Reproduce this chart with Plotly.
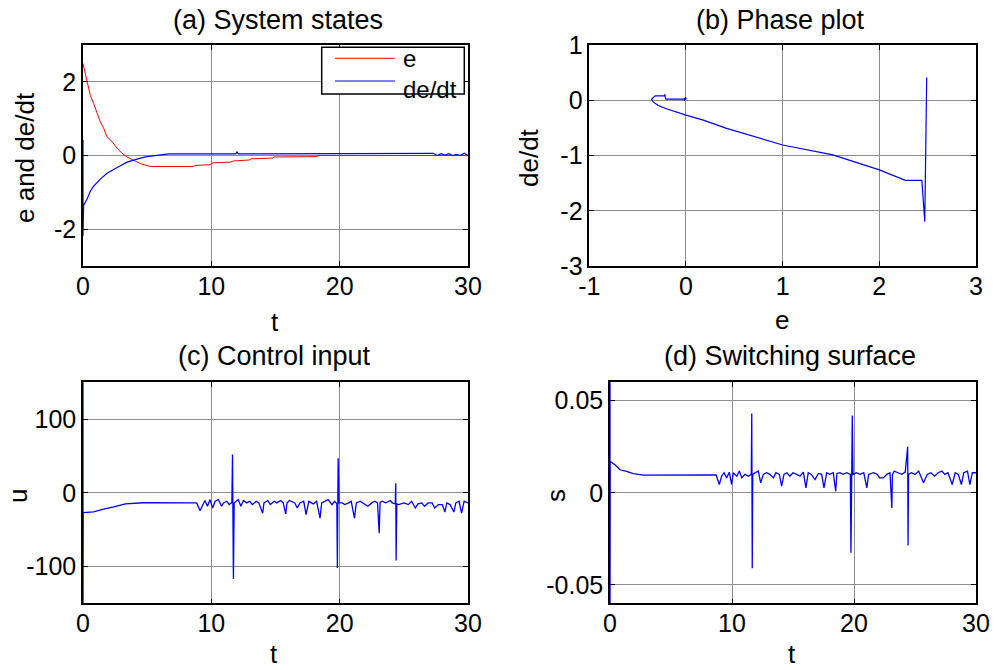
import plotly.graph_objects as go

# ---------------- data ----------------
# (a) system states
t_e = [0, 0.1, 0.31, 0.57, 0.83, 1.09, 1.35, 1.61, 1.87, 2.26, 2.65, 3.04, 3.43, 3.95, 4.47, 5.25,
       8.6, 8.7, 9.9, 10.1, 11.5, 11.7, 13.0, 13.1, 14.8, 14.9, 18.2, 18.4, 30]
e_vals = [2.50, 2.35, 1.99, 1.63, 1.41, 1.18, 0.91, 0.74, 0.51, 0.38, 0.20, 0.06, -0.04, -0.13, -0.22, -0.30,
          -0.30, -0.27, -0.25, -0.20, -0.18, -0.15, -0.12, -0.09, -0.07, -0.04, -0.03, 0.0, 0.0]

t_d = [0, 0, 0, 0.05, 0.31, 0.57, 0.83, 1.09, 1.35, 1.87, 2.39, 2.91, 3.43, 3.95, 4.47, 4.99, 5.77, 6.68,
       11.9, 12.0, 12.1, 20.0, 23.3, 24.5, 25.7, 27.0, 27.3, 27.6, 27.9, 28.2, 28.5, 28.8, 29.1, 29.4, 29.7, 30]
dedt_vals = [0.42, -2.18, -1.40, -1.35, -1.19, -0.97, -0.83, -0.73, -0.64, -0.48, -0.39, -0.28, -0.18, -0.12,
             -0.07, -0.03, 0.0, 0.045, 0.045, 0.10, 0.045, 0.045, 0.045, 0.045, 0.045, 0.04, 0.06, 0.0, 0.05,
             0.01, 0.05, 0.0, 0.03, 0.0, 0.06, 0.0]

# (b) phase plot
ph_e = [2.49, 2.47, 2.44, 2.27, 2.0, 1.52, 1.0, 0.42, 0.18, 0.0, -0.21, -0.29, -0.34, -0.355, -0.32,
        -0.22, -0.22, -0.21, -0.03, 0.0, -0.02, 0.0, -0.01, 0.0]
ph_dedt = [0.41, -2.2, -1.45, -1.45, -1.26, -0.99, -0.81, -0.51, -0.36, -0.27, -0.15, -0.09, -0.03, 0.02,
           0.08, 0.08, 0.11, 0.02, 0.02, 0.05, -0.01, 0.04, 0.0, 0.02]

# (c) control input
t_u = [0, 0, 0.02, 0.83, 1.6, 2.4, 3.3, 4.7, 8.86,
       9.12, 9.33, 9.5, 9.7, 9.9, 10.1, 10.3, 10.55, 10.8, 10.95, 11.2, 11.4, 11.6, 11.65, 11.72, 11.78,
       11.93, 12.1, 12.3, 12.5, 12.75, 13.0, 13.2, 13.5, 13.7, 14.0, 14.1, 14.4, 14.6, 14.9, 15.1, 15.4,
       15.6, 15.8, 15.9, 16.1, 16.5, 16.7, 16.9, 17.2, 17.38, 17.6, 17.8, 17.95, 18.2, 18.47, 18.6, 18.9,
       19.1, 19.4, 19.6, 19.78, 19.82, 19.88, 19.95, 20.2, 20.4, 20.7, 20.9, 21.15, 21.3, 21.6, 22.0, 22.2,
       22.5, 22.75, 22.95, 23.08, 23.15, 23.3, 23.6, 23.95, 24.1, 24.33, 24.37, 24.40, 24.45, 24.6, 25.0,
       25.35, 25.6, 25.9, 26.1, 26.4, 26.6, 26.9, 27.2, 27.4, 27.7, 28.0, 28.2, 28.35, 28.6, 28.9, 29.05,
       29.3, 29.5, 29.7, 30]
u_vals = [160, -160, -27, -26, -22, -19, -15, -13.5, -13.7,
          -24.2, -16, -10.5, -18.3, -9.2, -20.6, -11.5, -9.2, -18.3, -13.7, -11.5, -16, -13, 52, -117, -14,
          -11.5, -9.2, -18.3, -10.5, -13.7, -11.5, -16, -11.5, -13.7, -27.8, -13.7, -10.5, -16, -11.5, -13.7, -10.5,
          -13.7, -28.8, -13.7, -10.5, -13.7, -20.6, -13.7, -11.5, -29.5, -11.5, -13.7, -15.1, -11.5, -34.3, -13.7, -11.5,
          -9.2, -16, -11.5, -15, -102, 47, -13.7, -13.7, -16, -13.7, -11.5, -34.3, -13.7, -11.5, -16, -18.3,
          -13.7, -11.5, -13.7, -54.8, -13, -11.5, -13.7, -10.5, -13.7, -15, 13, -92, -15, -16, -13.7,
          -16, -11.5, -20.6, -15.1, -13.7, -18.3, -13.7, -13.7, -20.6, -16, -16, -26.1, -13.7, -16, -26.1, -13.7,
          -11.5, -27.5, -11.5, -13.7]

# (d) switching surface
t_s = [0, 0, 0.02, 0.41, 0.82, 1.37, 1.9, 2.73, 8.7,
       8.96, 9.15, 9.35, 9.56, 9.78, 9.97, 10.1, 10.4, 10.6, 10.8, 11.07, 11.34, 11.58, 11.62, 11.66, 11.7,
       11.9, 12.16, 12.35, 12.57, 12.84, 13.1, 13.4, 13.6, 13.88, 14.07, 14.26, 14.5, 14.75, 15.0, 15.3,
       15.57, 15.85, 16.06, 16.25, 16.5, 16.8, 17.08, 17.35, 17.54, 17.76, 18.0, 18.3, 18.5, 18.6, 18.85,
       19.1, 19.4, 19.7, 19.75, 19.86, 19.92, 20.2, 20.5, 20.8, 21.05, 21.2, 21.6, 21.9, 22.1, 22.4, 22.7,
       22.95, 23.1, 23.15, 23.3, 23.6, 23.9, 24.2, 24.4, 24.43, 24.47, 24.7, 25.0, 25.3, 25.5, 25.7, 26.0,
       26.3, 26.6, 26.9, 27.2, 27.45, 27.7, 28.05, 28.3, 28.55, 28.8, 29.0, 29.3, 29.5, 29.7, 30.0]
s_vals = [0.07, -0.07, 0.017, 0.0152, 0.0125, 0.0116, 0.0104, 0.0096, 0.0097,
          0.0045, 0.0090, 0.0109, 0.0081, 0.0112, 0.0045, 0.0109, 0.0090, 0.0118, 0.0081, 0.0100, 0.0090, 0.0100,
          0.043, -0.041, 0.0100,
          0.0109, 0.0118, 0.0054, 0.0100, 0.0109, 0.0100, 0.0081, 0.0109, 0.0100, 0.0036, 0.0100, 0.0109, 0.0090,
          0.0109, 0.0100, 0.0090, 0.0112, 0.0027, 0.0109, 0.0100, 0.0072, 0.0105, 0.0100, 0.0027, 0.0109, 0.0100,
          0.0109, 0.0008, 0.0105, 0.0109, 0.0100, 0.0109, 0.0100, -0.0325, 0.042, 0.0100, 0.0109, 0.0100, 0.0109,
          0.0027, 0.0100, 0.0109, 0.0100, 0.0081, 0.0081, 0.0100, 0.0109, -0.0082, 0.0100, 0.0118, 0.0109, 0.0100,
          0.0112, 0.025, -0.0286, 0.0100, 0.0109, 0.0100, 0.0118, 0.0090, 0.0054, 0.0100, 0.0109, 0.0090, 0.0109,
          0.0118, 0.0100, 0.0109, 0.0045, 0.0109, 0.0100, 0.0045, 0.0109, 0.0118, 0.0045, 0.0109, 0.0109]

# tick labels
t_ticks = [0, 10, 20, 30]
t_ticktext = ["0", "10", "20", "30"]
a_yticks = [-2, 0, 2]
a_yticktext = ["-2", "0", "2"]
b_xticks = [-1, 0, 1, 2, 3]
b_xticktext = ["-1", "0", "1", "2", "3"]
b_yticks = [-3, -2, -1, 0, 1]
b_yticktext = ["-3", "-2", "-1", "0", "1"]
c_yticks = [-100, 0, 100]
c_yticktext = ["-100", "0", "100"]
d_yticks = [-0.05, 0, 0.05]
d_yticktext = ["-0.05", "0", "0.05"]

titles = ["(a) System states", "(b) Phase plot", "(c) Control input", "(d) Switching surface"]
legend_names = ["e", "de/dt"]

# ---------------- figure ----------------
W, H = 994, 670
FONT = "Arial, Liberation Sans, sans-serif"
BLUE = "#0000ff"
RED = "#ff0000"

fig = go.Figure()
fig.add_trace(go.Scatter(x=t_e, y=e_vals, mode="lines", line=dict(color=RED, width=1), name=legend_names[0],
                         xaxis="x", yaxis="y", showlegend=False))
fig.add_trace(go.Scatter(x=t_d, y=dedt_vals, mode="lines", line=dict(color=BLUE, width=1.2), name=legend_names[1],
                         xaxis="x", yaxis="y", showlegend=False))
fig.add_trace(go.Scatter(x=ph_e, y=ph_dedt, mode="lines", line=dict(color=BLUE, width=1.2),
                         xaxis="x2", yaxis="y2", showlegend=False))
fig.add_trace(go.Scatter(x=t_u, y=u_vals, mode="lines", line=dict(color=BLUE, width=1.3),
                         xaxis="x3", yaxis="y3", showlegend=False))
fig.add_trace(go.Scatter(x=t_s, y=s_vals, mode="lines", line=dict(color=BLUE, width=1.3),
                         xaxis="x4", yaxis="y4", showlegend=False))


def px_x(p):
    return p / W


def px_y(p):
    return 1 - p / H


def ax(domain, rng, tickvals, ticktext, anchor, standoff):
    return dict(domain=domain, range=rng, tickvals=tickvals, ticktext=ticktext, anchor=anchor,
                showline=True, linecolor="black", linewidth=1.5, mirror="ticks",
                ticks="inside", ticklen=5, tickcolor="black", tickwidth=1,
                showgrid=True, gridcolor="#8c8c8c", gridwidth=1, zeroline=False,
                automargin=False, layer="below traces",
                tickfont=dict(size=25, color="black", family=FONT), ticklabelstandoff=standoff)


L1, R1 = 83, 468
L2, R2 = 589.3, 976
L4 = 610
T1, B1 = 45, 266
T2, B2 = 382.3, 603.3

xd_a = [px_x(L1), px_x(R1)]
xd_b = [px_x(L2), px_x(R2)]
xd_d = [px_x(L4), px_x(R2)]
yd_top = [px_y(B1), px_y(T1)]
yd_bot = [px_y(B2), px_y(T2)]

XSO, YSO = -3, 0
fig.update_layout(
    width=W, height=H, margin=dict(l=0, r=0, t=0, b=0, pad=0, autoexpand=False),
    paper_bgcolor="white", plot_bgcolor="white",
    font=dict(family=FONT, color="black", size=24),
    showlegend=False,
    xaxis=ax(xd_a, [0, 30], t_ticks, t_ticktext, "y", XSO),
    yaxis=ax(yd_top, [-3, 3], a_yticks, a_yticktext, "x", YSO),
    xaxis2=ax(xd_b, [-1, 3], b_xticks, b_xticktext, "y2", XSO),
    yaxis2=ax(yd_top, [-3, 1], b_yticks, b_yticktext, "x2", YSO),
    xaxis3=ax(xd_a, [0, 30], t_ticks, t_ticktext, "y3", XSO),
    yaxis3=ax(yd_bot, [-150, 150], c_yticks, c_yticktext, "x3", YSO),
    xaxis4=ax(xd_d, [0, 30], t_ticks, t_ticktext, "y4", XSO),
    yaxis4=ax(yd_bot, [-0.06, 0.06], d_yticks, d_yticktext, "x4", YSO),
)

ann = []
# subplot titles
for txt, cx, cy in [(titles[0], 277.5, 19.5), (titles[1], 780, 19.5), (titles[2], 274, 356), (titles[3], 790, 356)]:
    ann.append(dict(text=txt, x=px_x(cx), y=px_y(cy), xref="paper", yref="paper", showarrow=False,
                    xanchor="center", yanchor="middle", font=dict(size=27, family=FONT, color="black")))
# axis titles
for txt, cx, cy, ang in [("e and de/dt", 25, 158, -90), ("t", 275, 322, 0),
                         ("de/dt", 529, 158, -90), ("e", 782, 320, 0),
                         ("u", 18, 496, -90), ("t", 274, 654, 0),
                         ("s", 556, 496, -90), ("t", 792, 654, 0)]:
    ann.append(dict(text=txt, x=px_x(cx), y=px_y(cy), xref="paper", yref="paper", showarrow=False,
                    xanchor="center", yanchor="middle", textangle=ang,
                    font=dict(size=26, family=FONT, color="black")))
# legend labels (one two-line text block)
ann.append(dict(text="<br>".join(legend_names), x=px_x(401), y=px_y(74), xref="paper", yref="paper",
                showarrow=False, xanchor="left", yanchor="middle", align="left",
                font=dict(size=24, family=FONT, color="black")))
fig.update_layout(annotations=ann)

# legend box and sample lines (paper coordinates)
shapes = [
    dict(type="rect", xref="paper", yref="paper", x0=px_x(321.7), x1=px_x(464.3), y0=px_y(94), y1=px_y(47.3),
         line=dict(color="black", width=1.5), fillcolor="white", layer="above"),
    dict(type="line", xref="paper", yref="paper", x0=px_x(335), x1=px_x(395), y0=px_y(58.3), y1=px_y(58.3),
         line=dict(color=RED, width=1), layer="above"),
    dict(type="line", xref="paper", yref="paper", x0=px_x(335), x1=px_x(395), y0=px_y(81), y1=px_y(81),
         line=dict(color=BLUE, width=1), layer="above"),
]
fig.update_layout(shapes=shapes)

fig.write_html("out.html", config={"displayModeBar": False},
               post_script="document.body.style.margin='0px';document.body.style.overflow='hidden';")
